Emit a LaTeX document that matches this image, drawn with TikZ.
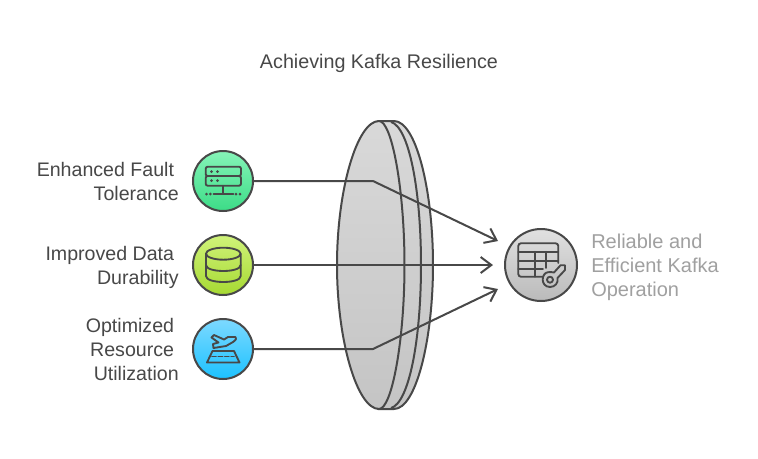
\documentclass[tikz,border=0pt]{standalone}
\usepackage{fontspec}
\setmainfont{Liberation Sans}
\usetikzlibrary{arrows.meta}
\definecolor{ink}{HTML}{484848}
\definecolor{txt}{HTML}{484848}
\definecolor{faded}{HTML}{A0A0A0}
\tikzset{
  x=0.75pt,y=-0.75pt,
  line/.style={draw=ink,line width=1.5pt,line join=round},
  thin icon/.style={draw=ink,line width=1.4pt,line join=round,line cap=round},
  badge/.style={circle,draw=ink,line width=1.5pt,minimum size=45pt,inner sep=0pt,shading=axis,shading angle=0},
  conn/.style={draw=ink,line width=1.5pt,line join=round},
  arrowed/.style={conn,-{Straight Barb[length=8pt,width=12pt,line width=1.5pt]}},
  lab/.style={font=\fontsize{14.7}{18}\selectfont,text=txt,align=right,anchor=east,inner sep=0pt},
}
\begin{document}
\begin{tikzpicture}
\useasboundingbox[fill=white] (0,0) rectangle (758,458);
\node[font=\fontsize{14.8}{18}\selectfont,text=txt,inner sep=0pt] (title) at (379,63) {Achieving Kafka Resilience};

% lens
\path[line,top color=black!15,bottom color=black!23]
  (378,121) -- (394,121) .. controls (416,121) and (433,190) .. (433,265)
  .. controls (433,340) and (416,409) .. (394,409) -- (378,409) -- cycle;
\path[line] (391,122) .. controls (409,127) and (421,190) .. (421,265)
  .. controls (421,340) and (409,403) .. (391,408);
\path[line,top color=black!15,bottom color=black!23]
  (379,121) .. controls (357,121) and (337,190) .. (337,265)
  .. controls (337,340) and (357,409) .. (379,409)
  .. controls (392,409) and (404.5,340) .. (404.5,265)
  .. controls (404.5,190) and (392,121) .. (379,121) -- cycle;

% badges
\node[badge,top color={rgb,255:red,134;green,244;blue,184},bottom color={rgb,255:red,60;green,220;blue,135}] (a) at (223,181) {};
\node[badge,top color={rgb,255:red,208;green,243;blue,122},bottom color={rgb,255:red,166;green,217;blue,50}] (b) at (223,265) {};
\node[badge,top color={rgb,255:red,125;green,217;blue,255},bottom color={rgb,255:red,28;green,194;blue,255}] (c) at (223,349) {};
\node[badge,minimum size=54pt,top color=black!12,bottom color=black!27] (d) at (541,265) {};

% labels
\node[lab] (la) at (179,181) {Enhanced Fault\hspace{3.5pt}\mbox{}\\Tolerance};
\node[lab] (lb) at (179,267) {Improved Data\hspace{3.5pt}\mbox{}\\Durability};
\node[lab] (lc) at (179,349) {Optimized\hspace{3.5pt}\mbox{}\\Resource\hspace{3.5pt}\mbox{}\\Utilization};
\node[font=\fontsize{15}{18}\selectfont,text=faded,align=left,anchor=west,inner sep=0pt] (ld) at (591,267) {Reliable and\\Efficient Kafka\\Operation};

% connectors
\coordinate (ka) at (373,181);
\coordinate (kc) at (373,349);
\coordinate (ea) at (498,241);
\coordinate (eb) at (493,265);
\coordinate (ec) at (498,289);
\draw[arrowed] (a.east) -- (ka) -- (ea);
\draw[arrowed] (b.east) -- (eb);
\draw[arrowed] (c.east) -- (kc) -- (ec);

% icon: server
\begin{scope}[thin icon]
\draw[rounded corners=1.5pt] (205.7,166.7) rectangle (241,176);
\draw[rounded corners=1.5pt] (205.7,176) rectangle (241,185.7);
\draw (223.3,185.7) -- (223.3,194);
\draw (213.5,194) -- (233.5,194);
\foreach \p in {(211.5,171.5),(217.5,171.5),(211.5,180.7),(217.5,180.7),(206.5,194),(210.3,194),(236,194),(240,194)}
  \fill[ink,draw=none] \p circle (1.5);
\end{scope}

% icon: cylinder
\begin{scope}[thin icon]
\draw (223.3,253.7) ellipse (17.3 and 6);
\draw (206,253.7) -- (206,276) .. controls (206,284) and (240.7,284) .. (240.7,276) -- (240.7,253.7);
\draw (206,265) .. controls (206,273) and (240.7,273) .. (240.7,265);
\end{scope}

% icon: plane over runway
\begin{scope}[thin icon]
\draw (212.5,351) -- (234,351) -- (239.5,362.5) -- (207,362.5) -- cycle;
\draw[dash pattern=on 3pt off 1.8pt] (212,356.5) -- (234,356.5);
\draw (235.5,337) -- (228,337) -- (224,339.5) -- (214,335) -- (211.5,337.5) -- (218.5,342.5) -- (213,344)
   -- (213.5,348) -- (226,346) -- (233,342) .. controls (236,340) and (237,338) .. (235.5,337);
\end{scope}

% icon: table and key
\begin{scope}[thin icon]
\draw[rounded corners=2pt] (543,276.7) -- (518.3,276.7) -- (518.3,243.3) -- (558.3,243.3) -- (558.3,263);
\draw (518.3,251.7) -- (558.3,251.7);
\draw (518.3,260.7) -- (558.3,260.7);
\draw (518.3,269) -- (543,269);
\draw (535,251.7) -- (535,276.7);
\draw (546,251.7) -- (546,268);
\draw (548,272.2) .. controls (550,272) and (552.5,272) .. (554,272.5) -- (560.5,265.3) -- (565,265.3) -- (565,270) -- (557.5,278)
  .. controls (558.5,283) and (555,287) .. (550,287)
  .. controls (545,287) and (542.7,283) .. (542.7,279.7) .. controls (542.7,275.5) and (545,272.5) .. (548,272.2);
\draw (550,279.7) circle (3);
\end{scope}
\end{tikzpicture}
\end{document}
